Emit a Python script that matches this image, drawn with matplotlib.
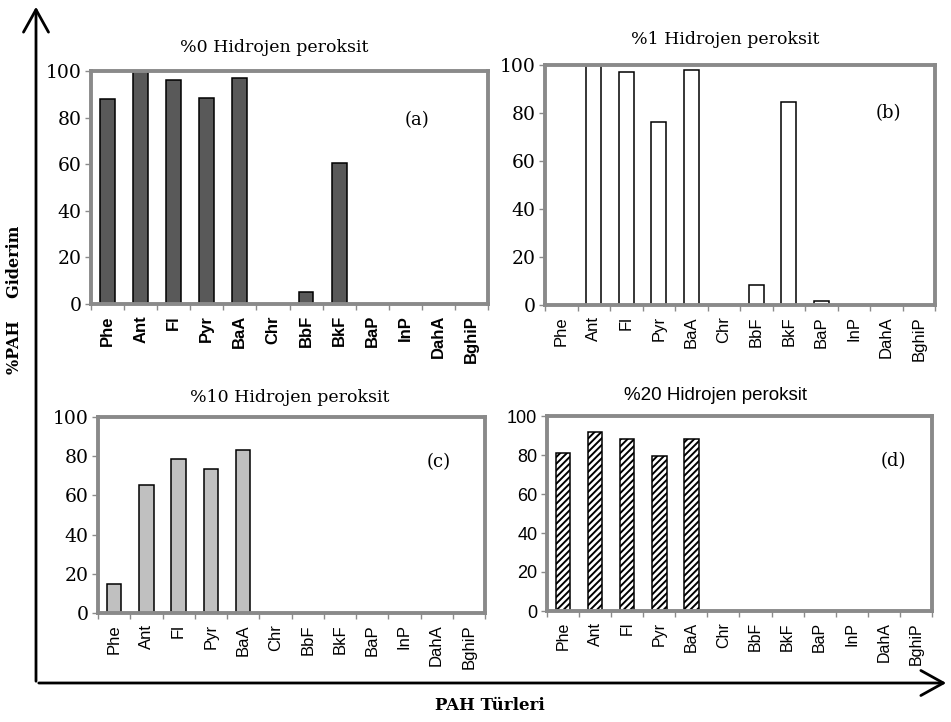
import matplotlib
matplotlib.use("Agg")
import matplotlib.pyplot as plt
from matplotlib.patches import FancyArrowPatch

categories = ["Phe", "Ant", "Fl", "Pyr", "BaA", "Chr", "BbF", "BkF", "BaP", "InP", "DahA", "BghiP"]
vals_a = [88, 100, 96, 88.5, 97, 0, 5.2, 60.7, 0, 0, 0, 0]
vals_b = [0, 100, 97.2, 76.4, 97.9, 0, 8.3, 84.4, 1.7, 0, 0, 0]
vals_c = [14.7, 65.4, 78.4, 73.7, 83.1, 0, 0, 0, 0, 0, 0, 0]
vals_d = [81, 91.8, 88.2, 79.3, 88.2, 0, 0, 0, 0, 0, 0, 0]
yticks = [0, 20, 40, 60, 80, 100]
titles = ["%0 Hidrojen peroksit", "%1 Hidrojen peroksit", "%10 Hidrojen peroksit", "%20 Hidrojen peroksit"]
panel_labels = ["(a)", "(b)", "(c)", "(d)"]

W, H = 951, 722
fig = plt.figure(figsize=(W / 100, H / 100), dpi=100)
plt.rcParams['hatch.linewidth'] = 1.4

def rect(l, t, r, b):
    return [l / W, 1 - b / H, (r - l) / W, (b - t) / H]

SERIF = "DejaVu Serif"
SANS = "Liberation Sans"
spine_col = "#8a8a8a"

panels = [
    dict(pos=rect(91, 71, 488, 304), vals=vals_a, fc="#595959", hatch=None,
         tfont=SERIF, tsize=12.5, ysize=13.5, yfont=SERIF, xbold=True, xsize=12,
         lab=(0.82, 0.79), ttl=(274, 48)),
    dict(pos=rect(545, 65, 935, 305), vals=vals_b, fc="white", hatch=None,
         tfont=SERIF, tsize=12.5, ysize=13.5, yfont=SERIF, xbold=False, xsize=12,
         lab=(0.88, 0.80), ttl=(725, 40)),
    dict(pos=rect(98, 417, 485, 613), vals=vals_c, fc="#c0c0c0", hatch=None,
         tfont=SERIF, tsize=12.5, ysize=13.5, yfont=SERIF, xbold=False, xsize=12,
         lab=(0.88, 0.77), ttl=(290, 397)),
    dict(pos=rect(547, 416, 932, 611), vals=vals_d, fc="white", hatch="/////",
         tfont=SANS, tsize=13.5, ysize=13, yfont=SANS, xbold=False, xsize=11.5,
         lab=(0.90, 0.77), ttl=(716, 395)),
]

x = list(range(len(categories)))
for i, p in enumerate(panels):
    ax = fig.add_axes(p["pos"])
    ax.bar(x, p["vals"], width=0.45, color=p["fc"], edgecolor="black",
           linewidth=1.1, hatch=p["hatch"], zorder=2)
    ax.set_xlim(-0.5, len(categories) - 0.5)
    ax.set_ylim(0, 100)
    ax.set_yticks(yticks)
    ax.set_yticklabels([str(v) for v in yticks], fontfamily=p["yfont"], fontsize=p["ysize"])
    ax.set_xticks(x)
    ax.set_xticklabels(categories, rotation=90, fontfamily=SANS, fontsize=p["xsize"],
                       fontweight="bold" if p["xbold"] else "normal")
    ax.set_xticks([k - 0.5 for k in range(len(categories) + 1)], minor=True)
    ax.tick_params(axis="x", which="major", length=0, pad=8)
    ax.tick_params(axis="x", which="minor", length=4, width=1, color=spine_col, direction="out")
    ax.tick_params(axis="y", which="major", length=4, width=1, color=spine_col, direction="out", pad=3)
    for s in ax.spines.values():
        s.set_color(spine_col)
        s.set_linewidth(2.8)
        s.set_zorder(3)
    fig.text(p["ttl"][0] / W, 1 - p["ttl"][1] / H, titles[i], ha="center", va="center",
             fontfamily=p["tfont"], fontsize=p["tsize"])
    ax.text(p["lab"][0], p["lab"][1], panel_labels[i], transform=ax.transAxes, ha="center",
            va="center", fontfamily=SERIF, fontsize=13)

# big axis arrows
fig.add_artist(FancyArrowPatch((36 / W, 1 - 684 / H), (36 / W, 1 - 4 / H), transform=fig.transFigure,
                               arrowstyle="->,head_length=0.9,head_width=0.5", mutation_scale=18,
                               color="black", linewidth=2.0))
fig.add_artist(FancyArrowPatch((36 / W, 1 - 683 / H), (949 / W, 1 - 683 / H), transform=fig.transFigure,
                               arrowstyle="->,head_length=0.9,head_width=0.5", mutation_scale=18,
                               color="black", linewidth=2.0))

fig.text(15 / W, 1 - 300 / H, "%PAH    Giderim", rotation=90, ha="center", va="center",
         fontfamily=SERIF, fontweight="bold", fontsize=11.5)
fig.text(490 / W, 1 - 706 / H, "PAH Türleri", ha="center", va="center",
         fontfamily=SERIF, fontweight="bold", fontsize=12)

fig.savefig("out.png", dpi=100)
